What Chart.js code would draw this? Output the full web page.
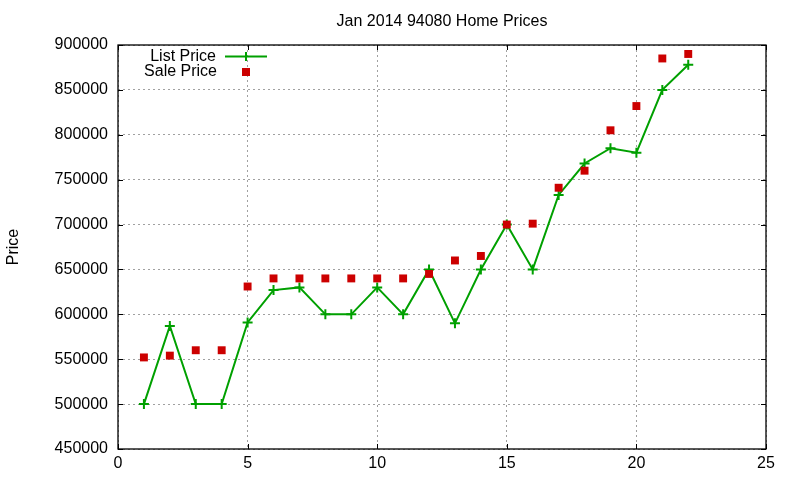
<!DOCTYPE html>
<html>
<head>
<meta charset="utf-8">
<title>Jan 2014 94080 Home Prices</title>
<script src="https://cdn.jsdelivr.net/npm/chart.js@4/dist/chart.umd.min.js"></script>
<style>
    html, body { margin: 0; padding: 0; background: #fff; }
    #wrap { width: 800px; height: 480px; position: relative; }
</style>
</head>
<body>
<div id="wrap"><canvas id="priceChart" width="800" height="480"></canvas></div>
<script>
// --- Data ---
const months = [1, 2, 3, 4, 5, 6, 7, 8, 9, 10, 11, 12, 13, 14, 15, 16, 17, 18, 19, 20, 21, 22];
const listPrice = [500000, 587000, 500000, 500000, 591000, 627000, 630000, 600000, 600000, 630000, 600000,
    650000, 590000, 650000, 700000, 650000, 733000, 768000, 785000, 780000, 850000, 878000];
const salePrice = [552000, 554000, 560000, 560000, 631000, 640000, 640000, 640000, 640000, 640000, 640000,
    645000, 660000, 665000, 700000, 701000, 741000, 760000, 805000, 832000, 885000, 890000];
const xTicks = [0, 5, 10, 15, 20, 25];
const yTicks = [450000, 500000, 550000, 600000, 650000, 700000, 750000, 800000, 850000, 900000];

const titleText = 'Jan 2014 94080 Home Prices';
const green = '#00a000';
const red = '#cc0000';
const font = 'Liberation Sans, Arial, sans-serif';

function toPoints(values) {
    return months.map((m, i) => ({ x: m, y: values[i] }));
}

// gnuplot style frame: box border, inward ticks, title and key
const framePlugin = {
    id: 'frame',
    afterDraw(chart) {
        const ctx = chart.ctx;
        const area = chart.chartArea;
        const xs = chart.scales.x;
        const ys = chart.scales.y;
        const tick = 5;

        ctx.save();
        ctx.strokeStyle = '#000';
        ctx.lineWidth = 1.3;
        ctx.strokeRect(area.left, area.top, area.right - area.left, area.bottom - area.top);

        ctx.beginPath();
        xTicks.forEach(v => {
            const px = Math.round(xs.getPixelForValue(v)) + 0.5;
            ctx.moveTo(px, area.bottom); ctx.lineTo(px, area.bottom - tick);
            ctx.moveTo(px, area.top); ctx.lineTo(px, area.top + tick);
        });
        yTicks.forEach(v => {
            const py = Math.round(ys.getPixelForValue(v)) + 0.5;
            ctx.moveTo(area.left, py); ctx.lineTo(area.left + tick, py);
            ctx.moveTo(area.right, py); ctx.lineTo(area.right - tick, py);
        });
        ctx.lineWidth = 1;
        ctx.stroke();

        // title
        ctx.fillStyle = '#000';
        ctx.font = '16px ' + font;
        ctx.textAlign = 'center';
        ctx.textBaseline = 'middle';
        ctx.fillText(titleText, (area.left + area.right) / 2, 21.5);

        // key
        const keyRight = 216;
        const sampleX = 246;
        const row1 = 56;
        const row2 = 71;
        ctx.textAlign = 'right';
        ctx.fillText(chart.data.datasets[0].label, keyRight, row1 + 0.5);
        ctx.fillText(chart.data.datasets[1].label, keyRight + 1, row2 + 0.5);

        ctx.strokeStyle = green;
        ctx.lineWidth = 2;
        ctx.beginPath();
        ctx.moveTo(225, row1 + 0.5); ctx.lineTo(267, row1 + 0.5);
        ctx.moveTo(sampleX, row1 + 0.5 - 4.5); ctx.lineTo(sampleX, row1 + 0.5 + 4.5);
        ctx.stroke();

        ctx.fillStyle = red;
        ctx.fillRect(sampleX - 4, row2 + 1 - 4, 8, 8);
        ctx.restore();
    }
};

const ctx = document.getElementById('priceChart').getContext('2d');
new Chart(ctx, {
    type: 'line',
    data: {
        datasets: [{
            label: 'List Price',
            data: toPoints(listPrice),
            borderColor: green,
            backgroundColor: green,
            borderWidth: 2,
            pointStyle: 'cross',
            pointRadius: 5,
            pointBorderWidth: 2,
            pointBorderColor: green,
            tension: 0,
            order: 1
        }, {
            label: 'Sale Price',
            data: toPoints(salePrice),
            showLine: false,
            borderColor: red,
            backgroundColor: red,
            pointStyle: 'rect',
            pointRadius: 5.6,
            pointBorderWidth: 0,
            order: 0
        }]
    },
    options: {
        responsive: false,
        animation: false,
        events: [],
        layout: { padding: { top: 45, right: 34, bottom: 0, left: 0 } },
        plugins: {
            legend: { display: false },
            title: { display: false },
            tooltip: { enabled: false }
        },
        scales: {
            x: {
                type: 'linear',
                min: 0,
                max: 25,
                afterBuildTicks: scale => { scale.ticks = xTicks.map(v => ({ value: v })); },
                afterFit: scale => { scale.height = 31; },
                grid: { color: '#a0a0a0', lineWidth: 1, drawTicks: false },
                border: { display: false, dash: [2, 3] },
                ticks: { color: '#000', font: { family: font, size: 16 }, padding: 5, maxRotation: 0 }
            },
            y: {
                type: 'linear',
                min: 450000,
                max: 900000,
                afterBuildTicks: scale => { scale.ticks = yTicks.map(v => ({ value: v })); },
                afterFit: scale => { scale.width = 118; },
                grid: { color: '#a0a0a0', lineWidth: 1, drawTicks: false },
                border: { display: false, dash: [2, 3] },
                ticks: { color: '#000', font: { family: font, size: 16 }, padding: 10, callback: v => String(v) },
                title: { display: true, text: 'Price', color: '#000', font: { family: font, size: 16 }, padding: { top: 4, bottom: 0 } }
            }
        }
    },
    plugins: [framePlugin]
});
</script>
</body>
</html>
